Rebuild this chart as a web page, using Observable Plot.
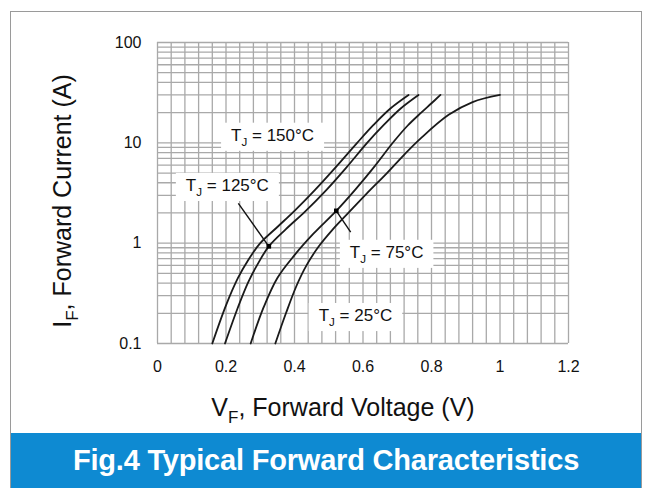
<!DOCTYPE html>
<html><head><meta charset="utf-8">
<script src="https://cdn.jsdelivr.net/npm/d3@7"></script>
<script src="https://cdn.jsdelivr.net/npm/@observablehq/plot@0.6"></script>
<style>
html,body{margin:0;padding:0;background:#fff;}
#wrap{position:relative;width:647px;height:488px;overflow:hidden;font-family:"Liberation Sans",Arial,sans-serif;}
#frame{position:absolute;left:10px;top:11px;width:632px;height:490px;border:1.5px solid #9a9a9a;box-sizing:border-box;}
#chart{position:absolute;left:0;top:0;}
#banner{position:absolute;left:11px;top:433px;width:630px;height:55px;background:#0e8ad2;color:#fff;font-weight:bold;font-size:29px;display:flex;align-items:center;justify-content:center;letter-spacing:-0.2px;}
</style></head>
<body><div id="wrap"><div id="chart"></div><div id="frame"></div><div id="banner">Fig.4 Typical Forward Characteristics</div></div>
<script>
// Forward voltage (V) and forward current (A) per junction temperature
const vf150 = [0.16,0.20,0.235,0.265,0.30,0.35,0.40,0.46,0.52,0.583,0.63,0.68,0.733];
const if150 = [0.1,0.24,0.45,0.68,1.0,1.45,2.1,3.4,5.7,10,15,22,30];
const vf125 = [0.197,0.235,0.265,0.295,0.325,0.375,0.43,0.49,0.55,0.612,0.66,0.71,0.762];
const if125 = [0.1,0.23,0.41,0.64,0.93,1.38,2.05,3.3,5.6,10,15,22,30];
const vf75 = [0.272,0.31,0.35,0.40,0.456,0.522,0.58,0.635,0.69,0.73,0.77,0.80,0.826];
const if75 = [0.1,0.23,0.45,0.76,1.25,2.1,3.5,5.9,10.3,14.8,20,24.8,30];
const vf25 = [0.344,0.375,0.405,0.435,0.47,0.51,0.56,0.61,0.67,0.72,0.77,0.85,0.92,1.0];
const if25 = [0.1,0.2,0.37,0.6,0.92,1.35,2.05,3.1,5.0,7.6,11.2,19,25.5,30];

const xTicks = [0,0.2,0.4,0.6,0.8,1,1.2];
const yTicks = [0.1,1,10,100];
const xGridStep = 0.04;
const yGridMultipliers = [1,2,3,4,5,6,7,8,9];

// Temperature labels and pointer arrows
const labelText = ["T_J = 150°C","T_J = 125°C","T_J = 75°C","T_J = 25°C"];
const labelV = [0.336,0.204,0.669,0.578];
const labelI = [11.9,3.76,0.81,0.19];
const arrowV1 = [0.236,0.564];
const arrowI1 = [2.49,1.29];
const arrowV2 = [0.325,0.522];
const arrowI2 = [0.93,2.1];

const series = [
  {t:"150", v:vf150, i:if150},
  {t:"125", v:vf125, i:if125},
  {t:"75", v:vf75, i:if75},
  {t:"25", v:vf25, i:if25}
];
const curveData = series.flatMap(s => s.v.map((v,k)=>({t:s.t, v, i:s.i[k]})));
const labels = labelText.map((s,k)=>({s, v:labelV[k], i:labelI[k]}));
const arrows = arrowV1.map((v,k)=>({v1:v, i1:arrowI1[k], v2:arrowV2[k], i2:arrowI2[k]}));

const xGrid = d3.range(0, 1.2 + 1e-9, xGridStep);
const yGrid = [0.1,1,10].flatMap(d => yGridMultipliers.map(m => +(d*m).toPrecision(3))).concat([100]);

const gridColor = "#a9a9a9";
const plot = Plot.plot({
  width: 647,
  height: 433,
  marginLeft: 157,
  marginRight: 79,
  marginTop: 42,
  marginBottom: 90,
  style: {fontFamily: '"Liberation Sans", Arial, sans-serif', fontSize: "16px", color: "#111", background: "transparent"},
  x: {domain: [0, 1.2]},
  y: {type: "log", domain: [0.1, 100]},
  marks: [
    Plot.ruleX(xGrid, {stroke: gridColor, strokeWidth: 1.3}),
    Plot.ruleY(yGrid, {stroke: gridColor, strokeWidth: 1.3}),
    Plot.axisX({ticks: xTicks, tickSize: 0, tickPadding: 17, tickFormat: d => String(d), label: null, fontSize: 16}),
    Plot.axisY({ticks: yTicks, tickSize: 0, tickPadding: 16, tickFormat: d => String(d), label: null, fontSize: 16}),
    Plot.text(labels, {x: "v", y: "i", text: "s", fontSize: 17, fill: "#111"}),
    Plot.link(arrows, {x1: "v1", y1: "i1", x2: "v2", y2: "i2", stroke: "#111", strokeWidth: 1.4}),
    Plot.line(curveData, {x: "v", y: "i", z: "t", curve: "catmull-rom", stroke: "#1a1a1a", strokeWidth: 1.8}),
    Plot.dot(arrows, {x: "v2", y: "i2", symbol: "square", r: 2.6, fill: "#000"}),
    Plot.text(["I_F, Forward Current (A)"], {frameAnchor: "left", textAnchor: "middle", dx: -95, dy: 8, rotate: -90, fontSize: 25, fill: "#111"}),
    Plot.text(["V_F, Forward Voltage (V)"], {frameAnchor: "bottom", textAnchor: "middle", dy: 72, dx: -20, fontSize: 25, fill: "#111"})
  ]
});
document.getElementById("chart").appendChild(plot);

// subscripts and white label boxes
const ns = "http://www.w3.org/2000/svg";
plot.querySelectorAll("text").forEach(t => {
  const s = t.textContent;
  const m = s.match(/^(.)_(.)(.*)$/);
  if (!m) return;
  const fs = parseFloat(getComputedStyle(t).fontSize) || 16;
  t.textContent = "";
  const a = document.createElementNS(ns, "tspan"); a.textContent = m[1];
  const b = document.createElementNS(ns, "tspan"); b.textContent = m[2];
  b.setAttribute("dy", (fs*0.3).toFixed(1)); b.setAttribute("font-size", (fs*0.68).toFixed(1));
  const c = document.createElementNS(ns, "tspan"); c.textContent = m[3];
  c.setAttribute("dy", (-fs*0.3).toFixed(1));
  t.append(a, b, c);
  if (m[1] === "T") {
    const bb = t.getBBox();
    const r = document.createElementNS(ns, "rect");
    r.setAttribute("x", bb.x - 10); r.setAttribute("y", bb.y - 3);
    r.setAttribute("width", bb.width + 20); r.setAttribute("height", bb.height + 6);
    r.setAttribute("fill", "#fff");
    const tr = t.getAttribute("transform"); if (tr) r.setAttribute("transform", tr);
    t.parentNode.insertBefore(r, t);
  }
});
</script>
</body></html>
